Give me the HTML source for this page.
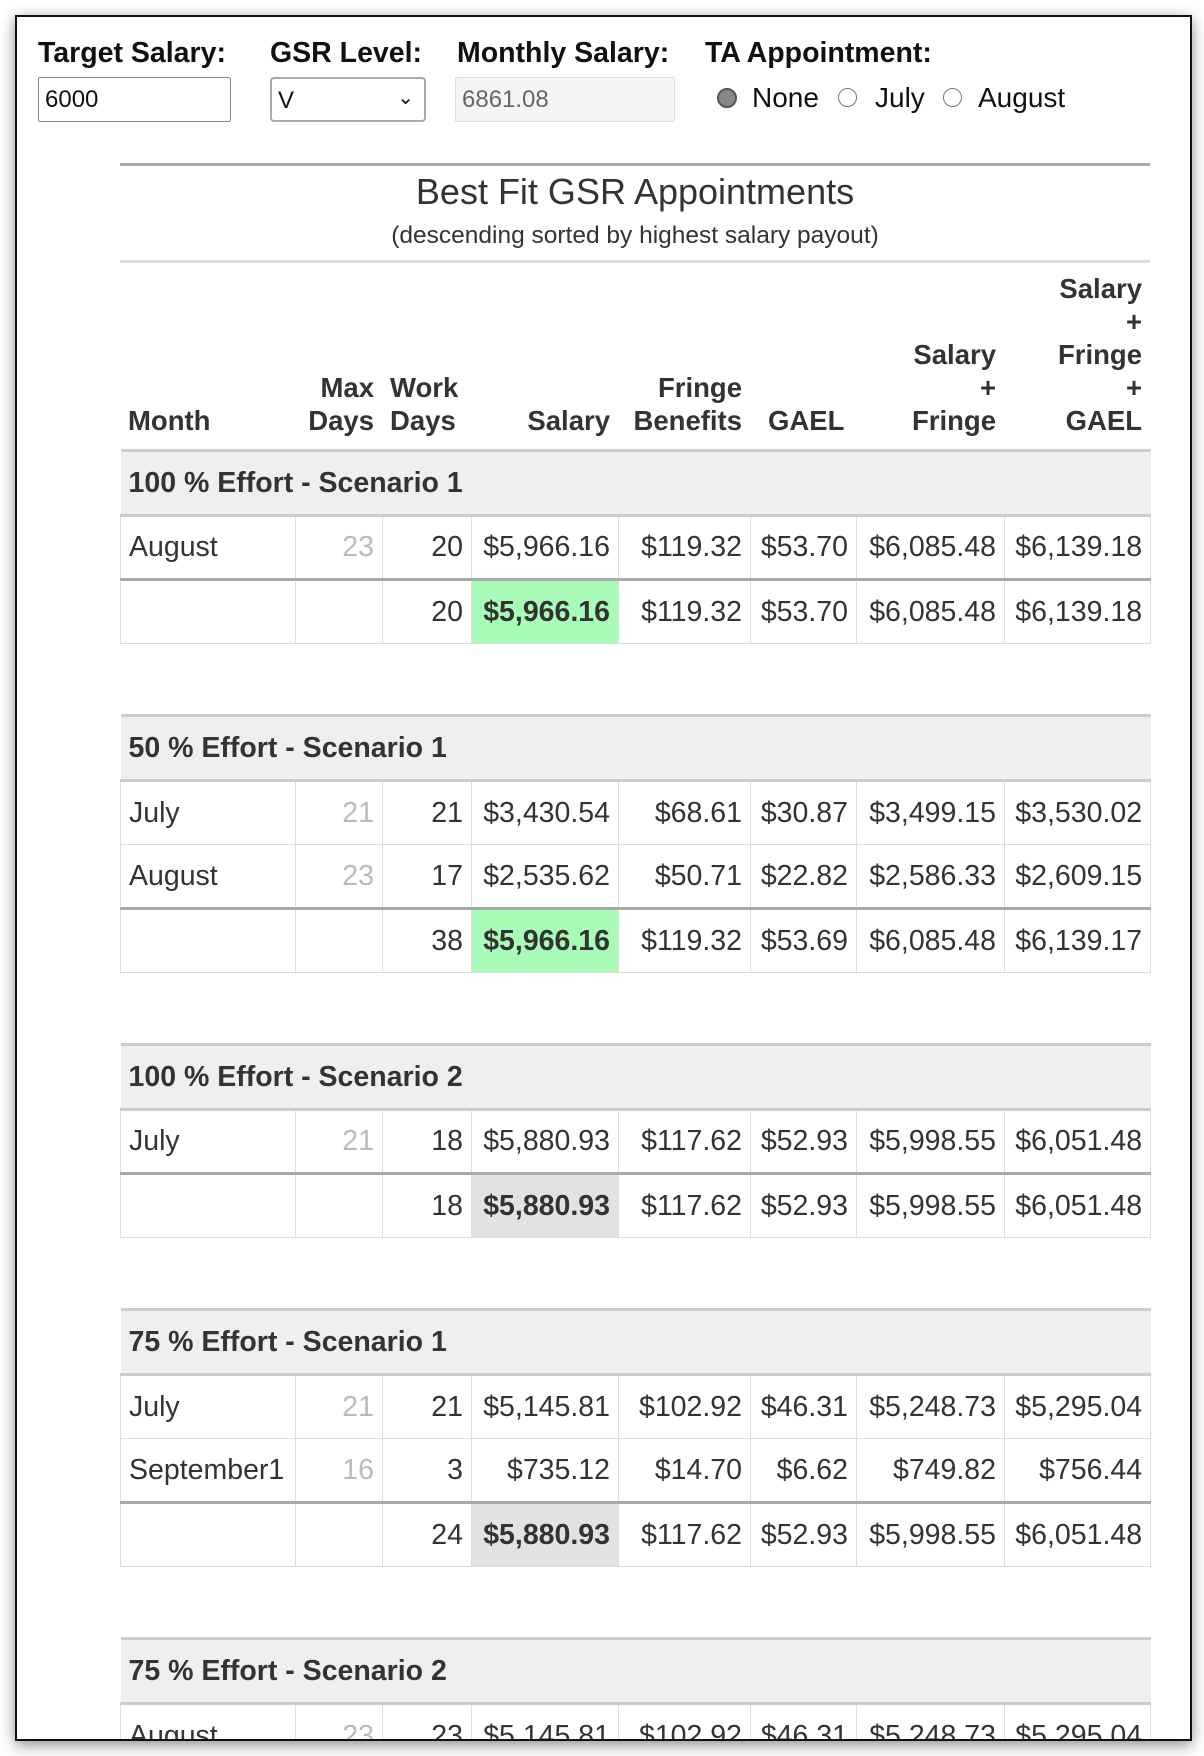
<!DOCTYPE html>
<html><head><meta charset="utf-8">
<style>
*{box-sizing:border-box;margin:0;padding:0}
html,body{width:1204px;height:1756px;background:#fff;overflow:hidden;font-family:"Liberation Sans",Arial,sans-serif;color:#333}
#frame{position:absolute;left:15px;top:15px;width:1177px;height:1726px;border:2px solid #111;box-shadow:0 4px 14px rgba(0,0,0,.45);overflow:hidden;background:#fff}
.abs{position:absolute}
.lbl{font-weight:bold;font-size:28.5px;color:#111;top:20px}
.inp{top:60px;height:45px;border:1px solid #777;border-radius:2px;font-size:24px;line-height:43px;padding-left:6px;color:#111}
.radio{width:19px;height:19px;border-radius:50%;border:1.5px solid #777;top:71px;background:#fff}
.rl{font-size:28px;color:#111;top:65px}
.hr{height:3px}
table{border-collapse:collapse;position:absolute;left:103px;width:1030px;table-layout:fixed;font-size:28.5px}
td{border:1px solid #ddd;padding:0 8px;white-space:nowrap;overflow:hidden}
td.r{text-align:right}
tr.gh td{background:#efefef;font-weight:bold;height:65px;border-left:none;border-right:none;border-top:3px solid #ccc;border-bottom:3px solid #ccc;color:#333}
tr.dr td{height:64px}
tr.tr td{height:64px;border-top:3px solid #aaa}
td.md{color:#bbb}
td.green{background:#a8fcb7;font-weight:bold}
td.grey{background:#e2e2e2;font-weight:bold}
#hdr{font-size:27.5px}
#hdr td{border:none;vertical-align:bottom;font-weight:bold;line-height:33px;padding-bottom:12px;height:188px;color:#333}
</style></head><body>
<div id="frame">
<div class="abs lbl" style="left:21px">Target Salary:</div>
<div class="abs lbl" style="left:253px">GSR Level:</div>
<div class="abs lbl" style="left:440px">Monthly Salary:</div>
<div class="abs lbl" style="left:688px">TA Appointment:</div>
<div class="abs inp" style="left:21px;width:193px;border-color:#888">6000</div>
<div class="abs inp" style="left:253px;width:156px;border:2px solid #aaa;border-radius:4px">V<span style="position:absolute;right:10px;top:-2px;font-size:20px">&#8964;</span></div>
<div class="abs inp" style="left:438px;width:220px;background:#f5f5f5;border-color:#ddd;color:#666">6861.08</div>
<div class="abs radio" style="left:700px;background:#888;border:2px solid #555;width:20px;height:20px"></div>
<div class="abs rl" style="left:735px">None</div>
<div class="abs radio" style="left:821px"></div>
<div class="abs rl" style="left:858px">July</div>
<div class="abs radio" style="left:926px"></div>
<div class="abs rl" style="left:961px">August</div>
<div class="abs hr" style="left:103px;width:1030px;top:146px;background:#aaa"></div>
<div class="abs" style="left:103px;width:1030px;top:154px;text-align:center;font-size:36px;color:#333">Best Fit GSR Appointments</div>
<div class="abs" style="left:103px;width:1030px;top:205px;text-align:center;font-size:24.5px;color:#333">(descending sorted by highest salary payout)</div>
<div class="abs hr" style="left:103px;width:1030px;top:243px;background:#ddd"></div>
<table id="hdr" style="top:244px">
<colgroup><col style="width:175px"><col style="width:87px"><col style="width:89px"><col style="width:147px"><col style="width:132px"><col style="width:106px"><col style="width:148px"><col style="width:146px"></colgroup>
<tr><td>Month</td><td class="r">Max<br>Days</td><td class="r" style="text-align:left;padding-left:8px">Work<br>Days</td><td class="r">Salary</td><td class="r">Fringe<br>Benefits</td><td class="r" style="text-align:left;padding-left:18px">GAEL</td><td class="r">Salary<br>+<br>Fringe</td><td class="r">Salary<br>+<br>Fringe<br>+<br>GAEL</td></tr>
</table>
</div>
<script>
const groupTitles=["100 % Effort - Scenario 1","50 % Effort - Scenario 1","100 % Effort - Scenario 2","75 % Effort - Scenario 1","75 % Effort - Scenario 2"];
const groupRows=[
 [["August","23","20","$5,966.16","$119.32","$53.70","$6,085.48","$6,139.18"]],
 [["July","21","21","$3,430.54","$68.61","$30.87","$3,499.15","$3,530.02"],["August","23","17","$2,535.62","$50.71","$22.82","$2,586.33","$2,609.15"]],
 [["July","21","18","$5,880.93","$117.62","$52.93","$5,998.55","$6,051.48"]],
 [["July","21","21","$5,145.81","$102.92","$46.31","$5,248.73","$5,295.04"],["September1","16","3","$735.12","$14.70","$6.62","$749.82","$756.44"]],
 [["August","23","23","$5,145.81","$102.92","$46.31","$5,248.73","$5,295.04"]]
];
const groupTotals=[
 ["","","20","$5,966.16","$119.32","$53.70","$6,085.48","$6,139.18"],
 ["","","38","$5,966.16","$119.32","$53.69","$6,085.48","$6,139.17"],
 ["","","18","$5,880.93","$117.62","$52.93","$5,998.55","$6,051.48"],
 ["","","24","$5,880.93","$117.62","$52.93","$5,998.55","$6,051.48"],
 null
];
const groupHighlight=["green","green","grey","grey","grey"];
const colWidths=[175,87,89,147,132,106,148,146];
const frameEl=document.getElementById('frame');
let yPos=432;
groupTitles.forEach((t,gi)=>{
  const tb=document.createElement('table');
  
  
  tb.style.top=yPos+'px';
  const cg=document.createElement('colgroup');
  colWidths.forEach(w=>{const c=document.createElement('col');c.style.width=w+'px';cg.appendChild(c);});
  tb.appendChild(cg);
  const gh=document.createElement('tr');gh.className='gh';
  const ghc=document.createElement('td');ghc.colSpan=8;ghc.textContent=t;
  
  
  gh.appendChild(ghc);tb.appendChild(gh);
  let h=65;
  const addRow=(vals,cls)=>{
    const tr=document.createElement('tr');tr.className=cls;
    
    
    vals.forEach((v,i)=>{
      const td=document.createElement('td');td.textContent=v;
      if(i>0)td.className='r';
      if(i===1)td.className='r md';
      if(cls==='tr'&&i===3)td.className='r '+groupHighlight[gi];
      
      
      tr.appendChild(td);
    });
    tb.appendChild(tr);h+=64;
  };
  groupRows[gi].forEach(r=>addRow(r,'dr'));
  if(groupTotals[gi])addRow(groupTotals[gi],'tr');
  frameEl.appendChild(tb);
  yPos+=h+72;
});
</script>
</body></html>
